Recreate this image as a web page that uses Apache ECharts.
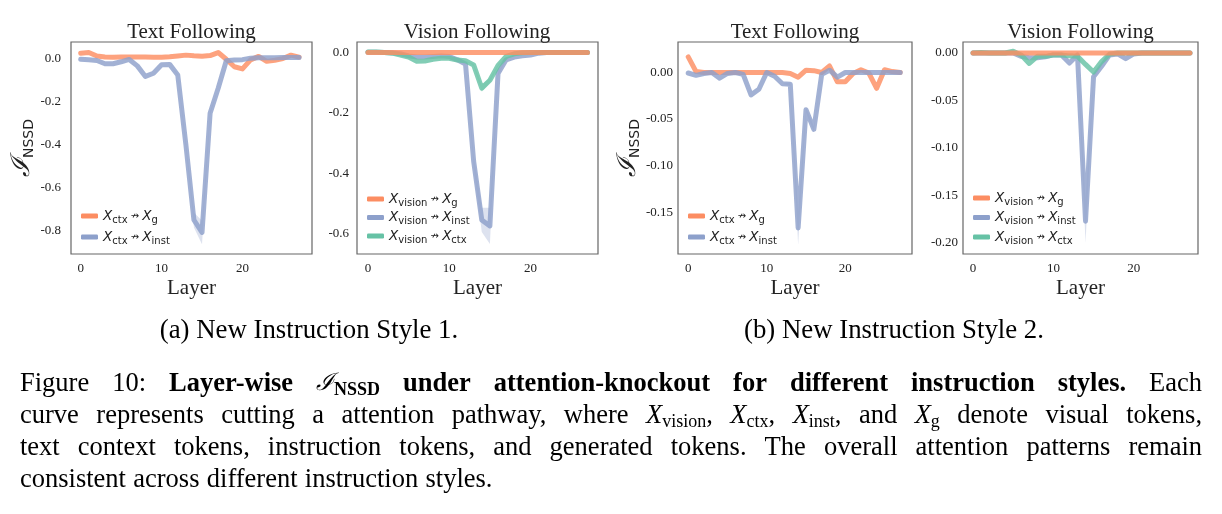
<!DOCTYPE html>
<html>
<head>
<meta charset="utf-8">
<script src="https://cdn.jsdelivr.net/npm/echarts@6/dist/echarts.min.js"></script>
<style>
html, body { margin: 0; padding: 0; background: #fff; }
#main { width: 1222px; height: 514px; }
</style>
</head>
<body>
<div id="main"></div>
<script>
// x axis: layer index
var layers = [0, 1, 2, 3, 4, 5, 6, 7, 8, 9, 10, 11, 12, 13, 14, 15, 16, 17, 18, 19, 20, 21, 22, 23, 24, 25, 26, 27];

// (a) style 1, text following
var p1CtxG = [0.023, 0.026, 0.010, 0.005, 0.004, 0.005, 0.005, 0.005, 0.005, 0.004, 0.004, 0.006, 0.010, 0.014, 0.011, 0.009, 0.012, 0.026, -0.005, -0.040, -0.050, -0.008, 0.008, -0.015, -0.010, -0.002, 0.014, 0.005];
var p1CtxInst = [-0.005, -0.008, -0.011, -0.026, -0.026, -0.017, -0.006, -0.036, -0.085, -0.070, -0.031, -0.029, -0.078, -0.400, -0.752, -0.810, -0.256, -0.140, -0.012, -0.009, -0.007, 0.000, 0.002, 0.002, 0.002, 0.003, 0.003, 0.003];
var p1InstErr = [0, 0, 0, 0, 0, 0, 0, 0, 0, 0, 0, 0, 0.004, 0.020, 0.035, 0.055, 0.010, 0, 0, 0, 0, 0, 0, 0, 0, 0, 0, 0];

// (a) style 1, vision following
var p2VisG = [0, 0, 0, 0, 0, 0, 0, 0, 0, 0, 0, 0, 0, 0, 0, 0, 0, 0, 0, 0, 0, 0, 0, 0, 0, 0, 0, 0];
var p2VisInst = [0.001, 0.001, 0.000, -0.001, -0.004, -0.011, -0.015, -0.015, -0.013, -0.011, -0.013, -0.024, -0.038, -0.360, -0.555, -0.575, -0.069, -0.024, -0.015, -0.011, -0.008, -0.002, 0, 0, 0, 0, 0, 0];
var p2VisCtx = [0.002, 0.002, 0.000, -0.002, -0.008, -0.015, -0.029, -0.028, -0.022, -0.019, -0.019, -0.025, -0.027, -0.041, -0.118, -0.092, -0.043, -0.013, -0.004, -0.001, 0, 0, 0, 0, 0, 0, 0, 0];
var p2InstErr = [0, 0, 0, 0, 0, 0, 0, 0, 0, 0, 0, 0, 0.004, 0.020, 0.040, 0.060, 0.010, 0, 0, 0, 0, 0, 0, 0, 0, 0, 0, 0];
var p2CtxErr = [0, 0, 0, 0, 0, 0, 0, 0, 0, 0, 0, 0, 0, 0.004, 0.012, 0.008, 0.003, 0, 0, 0, 0, 0, 0, 0, 0, 0, 0, 0];

// (b) style 2, text following
var p3CtxG = [0.0168, 0.001, 0, 0, 0, 0, 0, 0, 0, 0, 0, 0, 0, -0.001, -0.005, 0.0025, 0.002, 0, 0.007, -0.010, -0.010, -0.001, 0.003, -0.0005, -0.017, 0.003, 0.001, 0];
var p3CtxInst = [-0.0005, -0.003, -0.001, 0, -0.006, -0.001, 0, -0.002, -0.024, -0.018, 0, -0.004, -0.012, -0.0125, -0.167, -0.040, -0.061, -0.002, 0.0025, -0.005, 0, 0, 0, 0, 0, 0, 0, 0];
var p3InstErr = [0, 0, 0, 0, 0, 0, 0, 0, 0, 0, 0, 0, 0, 0.002, 0.018, 0.003, 0.003, 0, 0, 0, 0, 0, 0, 0, 0, 0, 0, 0];

// (b) style 2, vision following
var p4VisG = [0, 0, 0, 0, 0, 0, 0, 0, 0, 0, 0, 0, 0, 0, 0, 0, 0, 0, 0, 0, 0, 0, 0, 0, 0, 0, 0, 0];
var p4VisInst = [0, 0, 0, 0, 0, 0, -0.0035, -0.005, -0.005, -0.004, -0.002, -0.002, -0.0105, -0.002, -0.177, -0.025, -0.014, -0.002, -0.001, -0.006, -0.001, 0, 0, 0, 0, 0, 0, 0];
var p4VisCtx = [0, 0.0005, 0, 0, 0, 0.0018, -0.002, -0.011, -0.0035, -0.0035, -0.002, -0.002, -0.003, -0.0035, -0.012, -0.020, -0.009, -0.001, 0, 0, 0, 0, 0, 0, 0, 0, 0, 0];
var p4InstErr = [0, 0, 0, 0, 0, 0, 0, 0, 0, 0, 0, 0, 0, 0, 0.023, 0.003, 0, 0, 0, 0, 0, 0, 0, 0, 0, 0, 0, 0];

// tick labels
var xTicks = [0, 10, 20];
var p1YTicks = [0, -0.2, -0.4, -0.6, -0.8];
var p2YTicks = [0, -0.2, -0.4, -0.6];
var p3YTicks = [0, -0.05, -0.10, -0.15];
var p4YTicks = [0, -0.05, -0.10, -0.15, -0.20];

var panelTitles = ['Text Following', 'Vision Following', 'Text Following', 'Vision Following'];
var subCaptions = ['(a) New Instruction Style 1.', '(b) New Instruction Style 2.'];
var capLines = [
	'{n|Figure} {n|10:} {b|Layer-wise} {bi|ℐ}{bs|NSSD} {b|under} {b|attention-knockout} {b|for} {b|different} {b|instruction} {b|styles.} {n|Each}',
	'{n|curve} {n|represents} {n|cutting} {n|a} {n|attention} {n|pathway,} {n|where} {x|X}{sub|vision}{n|,} {x|X}{sub|ctx}{n|,} {x|X}{sub|inst}{n|,} {n|and} {x|X}{sub|g} {n|denote} {n|visual} {n|tokens,}',
	'{n|text} {n|context} {n|tokens,} {n|instruction} {n|tokens,} {n|and} {n|generated} {n|tokens.} {n|The} {n|overall} {n|attention} {n|patterns} {n|remain}',
	'{n|consistent} {n|across} {n|different} {n|instruction} {n|styles.}'
];

var ORANGE = '#fc8d62';
var BLUE = '#8da0cb';
var GREEN = '#66c2a5';
var SERIF = 'Liberation Serif';
var SANS = 'DejaVu Sans';
var INK = '#222';
var CAP_SIZE = 26.5;

var legendNames = {
	'ctx-g': '{x|X}{s|ctx}{a| ↛ }{x|X}{s|g}',
	'ctx-inst': '{x|X}{s|ctx}{a| ↛ }{x|X}{s|inst}',
	'vis-g': '{x|X}{s|vision}{a| ↛ }{x|X}{s|g}',
	'vis-inst': '{x|X}{s|vision}{a| ↛ }{x|X}{s|inst}',
	'vis-ctx': '{x|X}{s|vision}{a| ↛ }{x|X}{s|ctx}'
};

var grids = [
	{ left: 71, top: 42, width: 241, height: 212 },
	{ left: 357, top: 42, width: 241, height: 212 },
	{ left: 678, top: 42, width: 234, height: 212 },
	{ left: 963, top: 42, width: 235, height: 212 }
];
var xRanges = [[-1.2, 28.6], [-1.35, 28.3], [-1.3, 28.5], [-1.25, 28.0]];
var yRanges = [[-0.91, 0.075], [-0.668, 0.035], [-0.195, 0.0328], [-0.2116, 0.0116]];
var yTicks = [p1YTicks, p2YTicks, p3YTicks, p4YTicks];
var yDec = [1, 1, 2, 2];
var yMargin = [10, 8, 5, 5];

function pairs(vals) {
	return layers.map(function (l, i) { return [l, vals[i]]; });
}

function lineSeries(name, vals, color, idx, z) {
	return {
		name: name,
		type: 'line',
		xAxisIndex: idx,
		yAxisIndex: idx,
		data: pairs(vals),
		color: color,
		symbol: 'none',
		silent: true,
		z: z,
		lineStyle: { width: 5, color: color, opacity: 0.82, cap: 'round', join: 'round' }
	};
}

// shaded spread around a curve, drawn as one polygon through the axes
function bandSeries(vals, err, color, idx) {
	return {
		type: 'custom',
		xAxisIndex: idx,
		yAxisIndex: idx,
		silent: true,
		z: 1,
		data: [[0, 0]],
		renderItem: function (params, api) {
			var upper = [], lower = [];
			layers.forEach(function (l, i) {
				upper.push(api.coord([l, vals[i] + err[i]]));
				lower.unshift(api.coord([l, vals[i] - err[i]]));
			});
			return {
				type: 'polygon',
				shape: { points: upper.concat(lower) },
				style: { fill: color, opacity: 0.3 }
			};
		}
	};
}

function legendFor(names, left, top, gap) {
	return {
		orient: 'vertical',
		left: left,
		top: top,
		padding: 0,
		itemGap: gap,
		itemWidth: 17,
		itemHeight: 5,
		icon: 'roundRect',
		data: names,
		selectedMode: false,
		formatter: function (n) { return legendNames[n]; },
		textStyle: {
			color: INK,
			rich: {
				x: { fontFamily: SANS, fontStyle: 'italic', fontSize: 13.5, lineHeight: 18, color: INK },
				s: { fontFamily: SANS, fontSize: 10, lineHeight: 10, verticalAlign: 'bottom', color: INK },
				a: { fontFamily: SANS, fontSize: 10, lineHeight: 18, color: INK }
			}
		}
	};
}

// caption layout: word by word, justified to the text width
var capRich = {
	n: { fontFamily: SERIF, fontSize: CAP_SIZE, lineHeight: 30, color: '#000' },
	b: { fontFamily: SERIF, fontSize: CAP_SIZE, fontWeight: 'bold', lineHeight: 30, color: '#000' },
	x: { fontFamily: SERIF, fontSize: CAP_SIZE, fontStyle: 'italic', lineHeight: 30, color: '#000' },
	sub: { fontFamily: SERIF, fontSize: 18, lineHeight: 18, verticalAlign: 'bottom', color: '#000' },
	bi: { fontFamily: 'DejaVu Serif', fontSize: 24, fontStyle: 'italic', lineHeight: 30, color: '#000' },
	bs: { fontFamily: SERIF, fontSize: 18, fontWeight: 'bold', lineHeight: 18, verticalAlign: 'bottom', color: '#000' }
};
var measureCtx = document.createElement('canvas').getContext('2d');

function tokenWidth(tok) {
	var w = 0, m, re = /\{(\w+)\|([^}]*)\}/g;
	while ((m = re.exec(tok)) !== null) {
		var st = capRich[m[1]];
		measureCtx.font = (st.fontStyle || '') + ' ' + (st.fontWeight || '') + ' ' + st.fontSize + 'px "' + st.fontFamily + '"';
		w += measureCtx.measureText(m[2]).width;
	}
	return w;
}

function captionGraphics() {
	var out = [];
	var x0 = 20, x1 = 1202;
	var ys = [384, 416, 448, 480];
	measureCtx.font = CAP_SIZE + 'px "' + SERIF + '"';
	var spaceW = measureCtx.measureText(' ').width;
	capLines.forEach(function (line, li) {
		var toks = line.split(' ');
		var widths = toks.map(tokenWidth);
		var total = widths.reduce(function (a, b) { return a + b; }, 0);
		var gap = li < capLines.length - 1 ? (x1 - x0 - total) / (toks.length - 1) : spaceW * 1.1;
		var x = x0;
		toks.forEach(function (t, i) {
			out.push({
				type: 'text', x: x, y: ys[li], silent: true,
				style: { text: t, rich: capRich, textAlign: 'left', textVerticalAlign: 'middle' }
			});
			x += widths[i] + gap;
		});
	});
	return out;
}

function init() {
	var chartDom = document.getElementById('main');
	var myChart = echarts.init(chartDom);

	var xAxes = [], yAxes = [];
	for (var k = 0; k < 4; k++) {
		xAxes.push({
			type: 'value', gridIndex: k, min: xRanges[k][0], max: xRanges[k][1],
			axisLine: { show: false }, axisTick: { show: false }, splitLine: { show: false },
			axisLabel: { customValues: xTicks, margin: 8, fontFamily: SERIF, fontSize: 13, color: INK },
			name: 'Layer', nameLocation: 'middle', nameGap: 24,
			nameTextStyle: { fontFamily: SERIF, fontSize: 21, color: INK }
		});
		(function (k) {
			var ya = {
				type: 'value', gridIndex: k, min: yRanges[k][0], max: yRanges[k][1],
				axisLine: { show: false }, axisTick: { show: false }, splitLine: { show: false },
				axisLabel: {
					customValues: yTicks[k], margin: yMargin[k], fontFamily: SERIF, fontSize: 13, color: INK,
					formatter: function (v) { return (Math.abs(v) < 1e-9 ? 0 : v).toFixed(yDec[k]); }
				}
			};
			if (k === 0 || k === 2) {
				ya.name = '{i|ℐ}{s|NSSD}';
				ya.nameLocation = 'middle';
				ya.nameRotate = 90;
				ya.nameGap = k === 0 ? 19 : 29;
				ya.nameTextStyle = {
					rich: {
						i: { fontFamily: 'DejaVu Serif', fontStyle: 'italic', fontSize: 26, lineHeight: 28, color: INK },
						s: { fontFamily: SANS, fontSize: 14, lineHeight: 16, verticalAlign: 'bottom', color: INK }
					}
				};
			}
			yAxes.push(ya);
		})(k);
	}

	var series = [];
	series.push(bandSeries(p1CtxInst, p1InstErr, BLUE, 0));
	series.push(lineSeries('ctx-g', p1CtxG, ORANGE, 0, 2));
	series.push(lineSeries('ctx-inst', p1CtxInst, BLUE, 0, 3));

	series.push(bandSeries(p2VisInst, p2InstErr, BLUE, 1));
	series.push(bandSeries(p2VisCtx, p2CtxErr, GREEN, 1));
	series.push(lineSeries('vis-inst', p2VisInst, BLUE, 1, 2));
	series.push(lineSeries('vis-ctx', p2VisCtx, GREEN, 1, 3));
	series.push(lineSeries('vis-g', p2VisG, ORANGE, 1, 4));

	series.push(bandSeries(p3CtxInst, p3InstErr, BLUE, 2));
	series.push(lineSeries('ctx-g', p3CtxG, ORANGE, 2, 2));
	series.push(lineSeries('ctx-inst', p3CtxInst, BLUE, 2, 3));

	series.push(bandSeries(p4VisInst, p4InstErr, BLUE, 3));
	series.push(lineSeries('vis-inst', p4VisInst, BLUE, 3, 2));
	series.push(lineSeries('vis-ctx', p4VisCtx, GREEN, 3, 3));
	series.push(lineSeries('vis-g', p4VisG, ORANGE, 3, 4));

	var graphics = [];
	var titleX = [191.5, 477, 795, 1080.5];
	panelTitles.forEach(function (t, i) {
		graphics.push({
			type: 'text', x: titleX[i], y: 32, silent: true,
			style: { text: t, fontFamily: SERIF, fontSize: 21, fill: INK, textAlign: 'center', textVerticalAlign: 'middle' }
		});
	});
	var subX = [309, 894];
	subCaptions.forEach(function (t, i) {
		graphics.push({
			type: 'text', x: subX[i], y: 331, silent: true,
			style: { text: t, fontFamily: SERIF, fontSize: 26.8, fill: '#000', textAlign: 'center', textVerticalAlign: 'middle' }
		});
	});
	graphics = graphics.concat(captionGraphics());

	var chartOption = {
		animation: false,
		backgroundColor: '#fff',
		grid: grids.map(function (g) {
			return Object.assign({ show: true, borderColor: '#666', borderWidth: 1.2, backgroundColor: 'transparent' }, g);
		}),
		xAxis: xAxes,
		yAxis: yAxes,
		legend: [
			legendFor(['ctx-g', 'ctx-inst'], 81, 209, 5),
			legendFor(['vis-g', 'vis-inst', 'vis-ctx'], 367, 192, 2.5),
			legendFor(['ctx-g', 'ctx-inst'], 688, 209, 5),
			legendFor(['vis-g', 'vis-inst', 'vis-ctx'], 973, 191, 3.5)
		],
		series: series,
		graphic: graphics
	};

	chartOption && myChart.setOption(chartOption);
}

init();
</script>
</body>
</html>
